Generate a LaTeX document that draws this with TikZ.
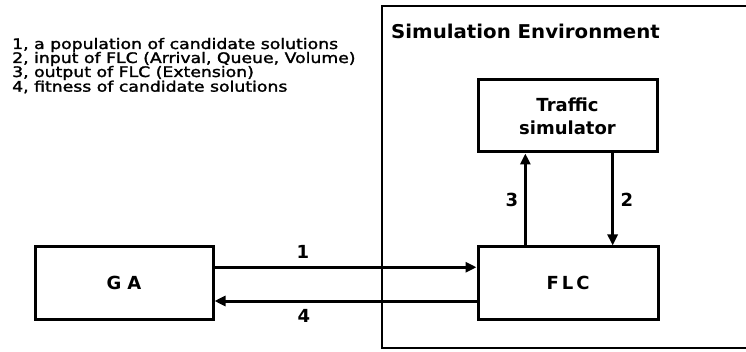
\documentclass[tikz,border=0pt]{standalone}
\usepackage{fontspec}
\setmainfont{DejaVu Sans}
\newfontfamily\listfont[FakeBold=1.6]{DejaVu Sans}
\usetikzlibrary{arrows.meta,calc}
\newcommand{\widetxt}[2]{\scalebox{#1}[1]{#2}}
\tikzset{
  blk/.style={draw,line width=3pt,minimum width=#1,inner sep=0pt},
  blk/.default=179pt,
  arr/.style={line width=3pt,-{Triangle[length=11pt,width=10pt]}},
  lbl/.style={font=\bfseries\fontsize{18}{18}\selectfont,inner sep=0pt},
  listtxt/.style={font=\listfont\fontsize{14.5}{14.5}\selectfont,anchor=west,inner sep=0pt},
  boxtxt/.style={font=\bfseries\fontsize{18}{18}\selectfont},
}
\begin{document}
\begin{tikzpicture}[x=1pt,y=-1pt]
\useasboundingbox (0,0) rectangle (746,352);
% outer environment (open at right edge)
\coordinate (envTR) at (747,6);
\coordinate (envTL) at (382,6);
\coordinate (envBL) at (382,348);
\coordinate (envBR) at (747,348);
\draw[line width=2.8pt] (envTR) -- (envTL) -- (envBL) -- (envBR);
\node[anchor=west,inner sep=0pt,font=\bfseries\fontsize{19}{19}\selectfont] (title) at (391,31) {\widetxt{1.04}{Simulation Environment}};
% list
\node[listtxt] (l1) at (12,45) {\widetxt{1.19}{1, a population of candidate solutions}};
\node[listtxt] (l2) at (12,59) {\widetxt{1.19}{2, input of FLC (Arrival, Queue, Volume)}};
\node[listtxt] (l3) at (12,73) {\widetxt{1.19}{3, output of FLC (Extension)}};
\node[listtxt] (l4) at (12,87) {\widetxt{1.19}{4, fitness of candidate solutions}};
% blocks
\node[blk=178pt,minimum height=72pt,boxtxt] (GA) at (124,283) {G\,\,A};
\node[blk=180pt,minimum height=72pt,boxtxt] (FLC) at (568,283) {F\,L\,C};
\node[blk=179pt,minimum height=72pt,align=center,font=\bfseries\fontsize{18}{23}\selectfont] (TS) at (567.5,116) {Traffic\\simulator};
% connectors
\coordinate (a1s) at ($(GA.north east)!0.29!(GA.south east)$);
\coordinate (a4e) at ($(GA.north east)!0.74!(GA.south east)$);
\coordinate (a3s) at ($(FLC.north west)!0.267!(FLC.north east)$);
\coordinate (a2e) at ($(FLC.north west)!0.744!(FLC.north east)$);
\draw[arr] (a1s) -- (a1s -| FLC.west);
\draw[arr] (a4e -| FLC.west) -- (a4e);
\draw[arr] (a3s) -- (a3s |- TS.south);
\draw[arr] (a2e |- TS.south) -- (a2e);
% labels
\node[lbl] (n1) at (303,252) {1};
\node[lbl] (n4) at (304,316) {4};
\node[lbl] (n3) at (512,200) {3};
\node[lbl] (n2) at (627,200) {2};
\end{tikzpicture}
\end{document}
